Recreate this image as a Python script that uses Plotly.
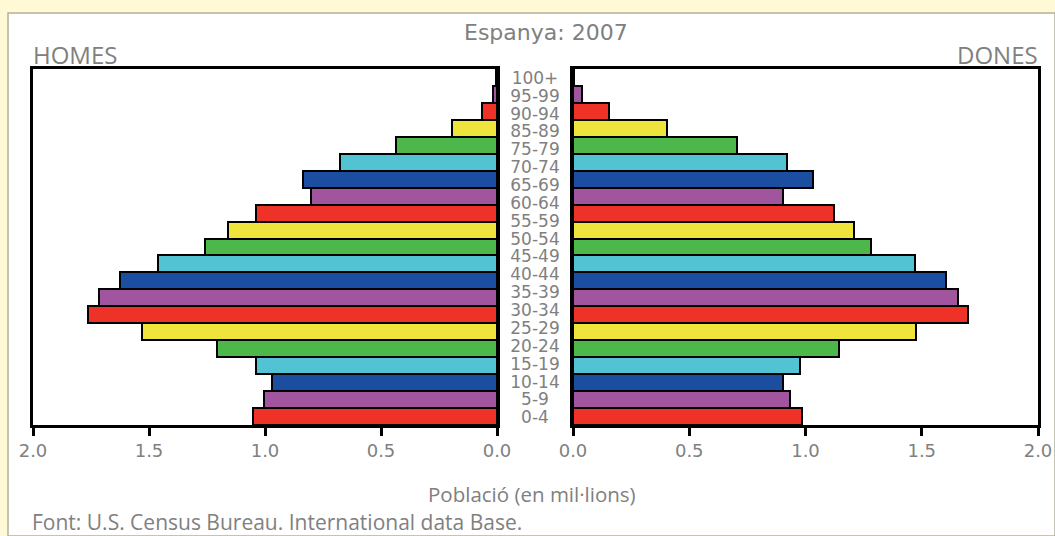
import plotly.graph_objects as go

# ---- data ----
age_groups = ["0-4", "5-9", "10-14", "15-19", "20-24", "25-29", "30-34", "35-39",
              "40-44", "45-49", "50-54", "55-59", "60-64", "65-69", "70-74", "75-79",
              "80-84", "85-89", "90-94", "95-99", "100+"]
men = [1.05, 1.005, 0.97, 1.04, 1.205, 1.532, 1.764, 1.717, 1.623, 1.46, 1.257,
       1.16, 1.04, 0.80, 0.835, 0.675, 0.435, 0.196, 0.066, 0.019, 0.005]
women = [0.984, 0.933, 0.905, 0.978, 1.142, 1.474, 1.698, 1.655, 1.603, 1.47, 1.28,
         1.207, 1.121, 0.905, 1.034, 0.922, 0.707, 0.405, 0.156, 0.038, 0.006]
bar_colors = ["#EE3228", "#A0559E", "#1B4EA0", "#52C3D2", "#4DB849", "#EEE43C"]
# labels printed in the centre column (as shown in the source; no 80-84 label)
center_labels = ["0-4", "5-9", "10-14", "15-19", "20-24", "25-29", "30-34", "35-39",
                 "40-44", "45-49", "50-54", "55-59", "60-64", "65-69", "70-74", "75-79",
                 "85-89", "90-94", "95-99", "100+"]
x_ticks = [0, 0.5, 1.0, 1.5, 2.0]

W, H = 1055, 536
def px(x): return x / W
def py(y): return 1 - y / H

colors = [bar_colors[i % len(bar_colors)] for i in range(len(age_groups))]
gray = "#808080"
human = "Open Sans"
sans = "DejaVu Sans"

fig = go.Figure()
fig.add_trace(go.Bar(y=age_groups, x=men, orientation="h", xaxis="x", yaxis="y",
                     marker=dict(color=colors, line=dict(color="black", width=2)),
                     showlegend=False, hoverinfo="x+y"))
fig.add_trace(go.Bar(y=age_groups, x=women, orientation="h", xaxis="x2", yaxis="y2",
                     marker=dict(color=colors, line=dict(color="black", width=2)),
                     showlegend=False, hoverinfo="x+y"))
fig.add_trace(go.Scatter(x=[0] * len(center_labels), y=center_labels, mode="text",
                         text=center_labels, xaxis="x3", yaxis="y3",
                         textfont=dict(family=sans, size=17, color=gray),
                         showlegend=False, hoverinfo="skip"))

ydom = [py(425), py(69)]
axis_common = dict(showline=True, linecolor="black", linewidth=2.5, mirror=True,
                   ticks="outside", ticklen=8, tickwidth=2.5, tickcolor="black",
                   tickvals=x_ticks, tickformat=".1f", showgrid=False, zeroline=False,
                   automargin=False,
                   tickfont=dict(family=sans, size=18, color=gray), fixedrange=True)
ycommon = dict(domain=ydom, type="category", categoryarray=age_groups,
               range=[-0.5, len(age_groups) - 0.5], showticklabels=False, ticks="",
               showline=True, linecolor="black", linewidth=2.5, mirror=True,
               showgrid=False, fixedrange=True, automargin=False)

def note(text, x, y, xanchor, family, size):
    return dict(text=text, x=px(x), y=py(y), xref="paper", yref="paper",
                xanchor=xanchor, yanchor="middle", showarrow=False,
                font=dict(family=family, size=size, color=gray))

fig.update_layout(
    width=W, height=H, autosize=False,
    margin=dict(l=0, r=0, t=0, b=0, pad=0),
    paper_bgcolor="#FFF9D6", plot_bgcolor="rgba(0,0,0,0)",
    bargap=0,
    xaxis=dict(domain=[px(33), px(497)], range=[2, 0], anchor="y", **axis_common),
    xaxis2=dict(domain=[px(573), px(1038)], range=[0, 2], anchor="y2", **axis_common),
    yaxis=dict(anchor="x", **ycommon),
    yaxis2=dict(anchor="x2", **ycommon),
    xaxis3=dict(domain=[px(497), px(573)], range=[-1, 1], anchor="y3", visible=False,
                automargin=False, fixedrange=True),
    yaxis3=dict(domain=ydom, anchor="x3", type="category", categoryarray=center_labels,
                range=[-0.336, 19.59], visible=False, automargin=False, fixedrange=True),
    shapes=[dict(type="rect", xref="paper", yref="paper", x0=px(8), x1=1.0,
                 y0=0, y1=py(13), fillcolor="white",
                 line=dict(color="#B5B09A", width=1.5), layer="below")],
    annotations=[
        note("Espanya: 2007", 546, 33, "center", sans, 22),
        note("HOMES", 31, 54, "left", human, 24),
        note("DONES", 1040, 54, "right", human, 24),
        note("Població (en mil·lions)", 532, 494, "center", human, 20.5),
        note("Font: U.S. Census Bureau. International data Base.", 30, 522, "left", human, 21),
    ],
)
fig.write_html("out.html", config={"displayModeBar": False},
               post_script="document.body.style.margin='0';document.body.style.overflow='hidden';")
